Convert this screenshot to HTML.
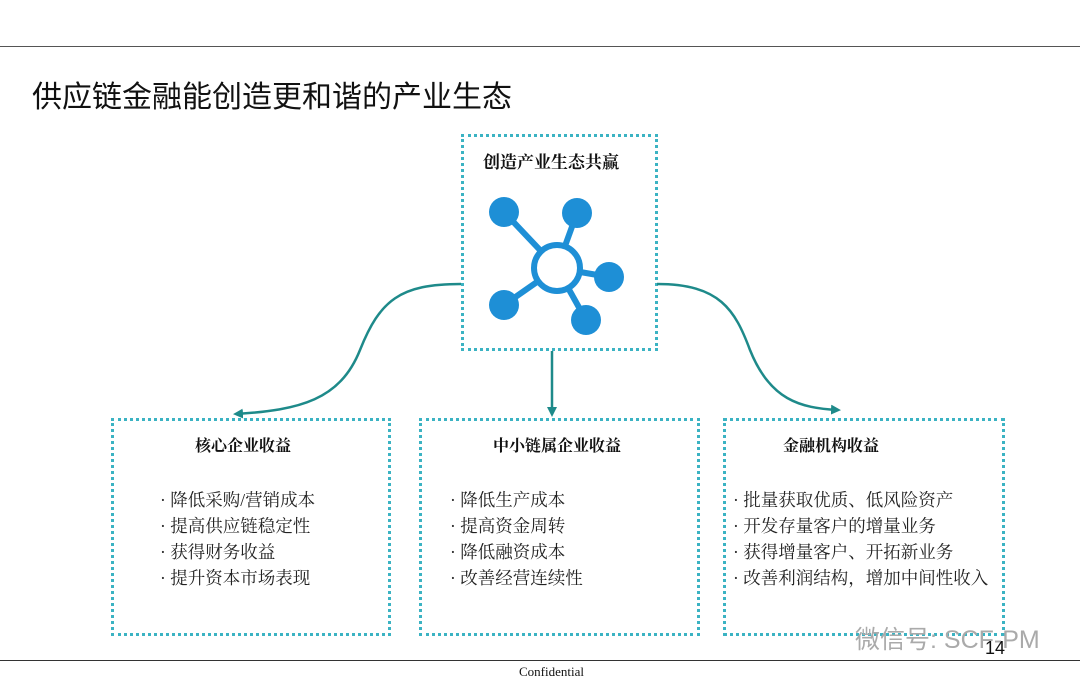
<!DOCTYPE html>
<html><head><meta charset="utf-8"><style>
body{margin:0;width:1080px;height:683px;background:#fff;position:relative;overflow:hidden;font-family:"Liberation Serif","Noto Serif CJK SC",serif;}
.t{position:absolute;white-space:nowrap;color:#111}
.box{position:absolute;border:3px dotted #3bb3c3;box-sizing:border-box}
.li{position:absolute;font-size:17.5px;line-height:26px;color:#222;white-space:nowrap}
</style></head><body>
<div style="position:absolute;left:0;top:46px;width:1080px;height:1px;background:#555"></div>
<div style="position:absolute;left:0;top:660px;width:1080px;height:1px;background:#333"></div>
<div class="t" style="left:32px;top:72px;font-size:30px;font-family:'Noto Sans CJK SC',sans-serif;color:#111">供应链金融能创造更和谐的产业生态</div>
<div class="box" style="left:461px;top:134px;width:197px;height:217px"></div>
<div class="t" style="left:483px;top:148px;font-size:17px;font-weight:bold">创造产业生态共赢</div>
<div class="box" style="left:111px;top:418px;width:280px;height:218px"></div>
<div class="box" style="left:419px;top:418px;width:281px;height:218px"></div>
<div class="box" style="left:723px;top:418px;width:282px;height:218px"></div>
<div class="t" style="left:195px;top:433px;font-size:16px;font-weight:bold">核心企业收益</div>
<div class="t" style="left:493px;top:433px;font-size:16px;font-weight:bold">中小链属企业收益</div>
<div class="t" style="left:783px;top:433px;font-size:16px;font-weight:bold">金融机构收益</div>
<div class="li" style="left:160px;top:487px">· 降低采购/营销成本<br>· 提高供应链稳定性<br>· 获得财务收益<br>· 提升资本市场表现</div>
<div class="li" style="left:450px;top:487px">· 降低生产成本<br>· 提高资金周转<br>· 降低融资成本<br>· 改善经营连续性</div>
<div class="li" style="left:733px;top:487px">· 批量获取优质、低风险资产<br>· 开发存量客户的增量业务<br>· 获得增量客户、开拓新业务<br>· 改善利润结构，增加中间性收入</div>
<svg width="1080" height="683" style="position:absolute;left:0;top:0">
<defs><marker id="a" markerWidth="10" markerHeight="10" refX="7" refY="5" orient="auto" markerUnits="userSpaceOnUse"><path d="M0,0 L10,5 L0,10 Z" fill="#1e8a8a"/></marker></defs>
<g stroke="#1e8a8a" stroke-width="2.5" fill="none">
<path d="M461,284 C400,284 380,300 360,350 C340,400 300,410 236,414" marker-end="url(#a)"/>
<path d="M657,284 C720,284 735,310 750,350 C770,400 800,408 838,410" marker-end="url(#a)"/>
<path d="M552,351 L552,414" marker-end="url(#a)"/>
</g>
<g stroke="#1e8fd6" stroke-width="6" fill="#1e8fd6">
<line x1="557" y1="268" x2="504" y2="212"/><line x1="557" y1="268" x2="577" y2="213"/>
<line x1="557" y1="268" x2="609" y2="277"/><line x1="557" y1="268" x2="504" y2="305"/>
<line x1="557" y1="268" x2="586" y2="320"/>
<circle cx="504" cy="212" r="15" stroke="none"/><circle cx="577" cy="213" r="15" stroke="none"/>
<circle cx="609" cy="277" r="15" stroke="none"/><circle cx="504" cy="305" r="15" stroke="none"/>
<circle cx="586" cy="320" r="15" stroke="none"/>
<circle cx="557" cy="268" r="23" fill="#fff"/>
</g>
</svg>
<div class="t" style="left:855px;top:620px;font-size:25px;color:#aaa;font-family:'Liberation Sans','Noto Sans CJK SC',sans-serif">微信号: SCF-PM</div>
<div class="t" style="left:985px;top:638px;font-size:18px;font-family:'Liberation Sans',sans-serif">14</div>
<div class="t" style="left:519px;top:664px;font-size:13px">Confidential</div>
</body></html>
